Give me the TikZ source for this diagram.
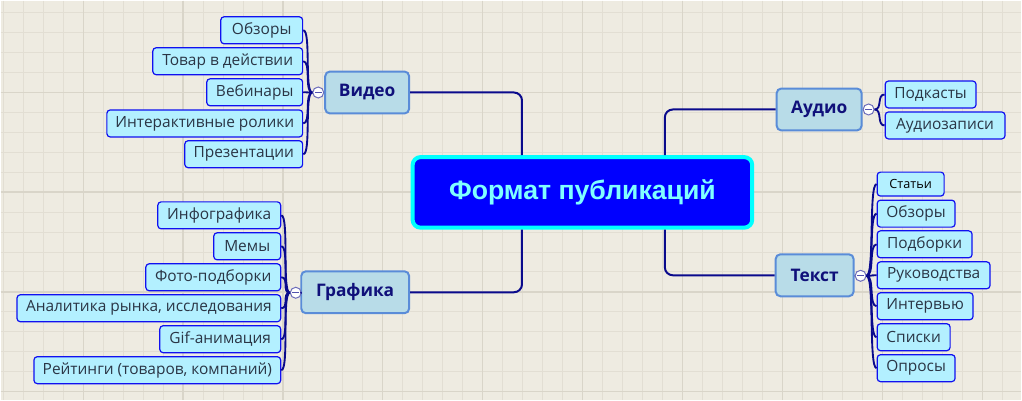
\documentclass[tikz,border=0pt]{standalone}
\usepackage{fontspec}
\setmainfont{Open Sans}
\newfontfamily\titlefont{Liberation Sans}
\usetikzlibrary{positioning,calc}

\definecolor{paper}{HTML}{EEEBE1}
\definecolor{gridminor}{HTML}{E2DED3}
\definecolor{gridmajor}{HTML}{D9D5C9}
\definecolor{navy}{HTML}{0A0A8C}
\definecolor{midfill}{HTML}{B8DCE8}
\definecolor{midline}{HTML}{5A8CD8}
\definecolor{midtext}{HTML}{10107A}
\definecolor{leaffill}{HTML}{B3F0FF}
\definecolor{leafline}{HTML}{1010F0}
\definecolor{leaftext}{HTML}{2A3545}
\definecolor{titletext}{HTML}{80FFFF}
\definecolor{rim}{HTML}{00FFFF}

\tikzset{
	leaf/.style={draw=leafline, fill=leaffill, text=leaftext, rounded corners=2.5pt,
		line width=0.9pt, inner sep=0pt, minimum height=20.25pt,
		minimum width=#1*0.75pt, font=\fontsize{11.6}{14}\selectfont},
	smallleaf/.style={leaf=#1, minimum height=18pt, text=black, font=\fontsize{9.5}{11}\selectfont},
	topic/.style={draw=midline, fill=midfill, text=midtext, rounded corners=3.5pt,
		line width=1.5pt, inner sep=0pt, minimum height=31.5pt,
		minimum width=#1*0.75pt, font=\fontsize{13}{15}\selectfont\bfseries},
	handle/.style={circle, draw=navy!60!white, fill=white, line width=0.75pt,
		minimum size=8.25pt, inner sep=0pt,
		path picture={\draw[navy!70!white, line width=0.6pt]
			([xshift=1.6pt]path picture bounding box.west) --
			([xshift=-1.6pt]path picture bounding box.east);}},
	branch/.style={draw=navy, line width=1.5pt, rounded corners=6pt},
	twig/.style={draw=navy, line width=1.4pt},
}

\begin{document}
\begin{tikzpicture}[x=0.75pt,y=-0.75pt]
	% background grid
	\fill[paper] (0,0) rectangle (1022,400);
	\foreach \x in {2.7,22.7,...,1022} \draw[gridminor, line width=0.75pt] (\x,0) -- (\x,400);
	\foreach \y in {11.7,31.7,...,400} \draw[gridminor, line width=0.75pt] (0,\y) -- (1022,\y);
	\foreach \x in {82.7,182.7,...,1022} \draw[gridmajor, line width=0.9pt] (\x,0) -- (\x,400);
	\foreach \y in {91.7,191.7,...,400} \draw[gridmajor, line width=0.9pt] (0,\y) -- (1022,\y);
	\useasboundingbox (0,0) rectangle (1022,400);

	% centre
	\draw (582.5,192) node[draw=rim, fill=blue, line width=3pt, rounded corners=6pt,
		minimum width=255pt, minimum height=53pt, text=titletext,
		font=\titlefont\fontsize{20}{24}\selectfont\bfseries] (main) {Формат публикаций};

	% topics
	\draw (367,92) node[topic=84] (video) {Видео};
	\draw (355,292) node[topic=108] (grafika) {Графика};
	\draw (819.5,109) node[topic=85] (audio) {Аудио};
	\draw (815,275) node[topic=78] (tekst) {Текст};

	\draw[branch] (video.east) -| ($(main.north)+(-60.5,0)$);
	\draw[branch] (grafika.east) -| ($(main.south)+(-60.5,0)$);
	\draw[branch] (audio.west) -| ($(main.north)+(82.5,0)$);
	\draw[branch] (tekst.west) -| ($(main.south)+(82.5,0)$);

	% Видео
	\draw (303,29.7) node[leaf=82, anchor=east] (v1) {Обзоры};
	\draw (303,60.7) node[leaf=150, anchor=east] (v2) {Товар в действии};
	\draw (303,91.8) node[leaf=96, anchor=east] (v3) {Вебинары};
	\draw (303,123) node[leaf=196, anchor=east] (v4) {Интерактивные ролики};
	\draw (303,153.8) node[leaf=118, anchor=east] (v5) {Презентации};
	\draw (318,92) node[handle] (hv) {};

	% Графика
	\draw (281,215) node[leaf=123, anchor=east] (g1) {Инфографика};
	\draw (281,246) node[leaf=67, anchor=east] (g2) {Мемы};
	\draw (281,277) node[leaf=135, anchor=east] (g3) {Фото-подборки};
	\draw (281,308) node[leaf=264, anchor=east] (g4) {Аналитика рынка, исследования};
	\draw (281,339) node[leaf=121, anchor=east] (g5) {Gif-анимация};
	\draw (281,370) node[leaf=247, anchor=east] (g6) {Рейтинги (товаров, компаний)};
	\draw (295.5,292.5) node[handle] (hg) {};

	% Аудио
	\draw (885,94) node[leaf=91, anchor=west] (a1) {Подкасты};
	\draw (885,125) node[leaf=120, anchor=west] (a2) {Аудиозаписи};
	\draw (869,109) node[handle] (ha) {};

	% Текст
	\draw (877,183.7) node[smallleaf=67, anchor=west] (t1) {Статьи};
	\draw (877,213.3) node[leaf=78, anchor=west] (t2) {Обзоры};
	\draw (877,244) node[leaf=95, anchor=west] (t3) {Подборки};
	\draw (877,275) node[leaf=113, anchor=west] (t4) {Руководства};
	\draw (877,306) node[leaf=96, anchor=west] (t5) {Интервью};
	\draw (877,337) node[leaf=73, anchor=west] (t6) {Списки};
	\draw (877,368) node[leaf=78, anchor=west] (t7) {Опросы};
	\draw (861,275.5) node[handle] (ht) {};

	\path[twig]
		(hv)	edge	(video)
				edge	[out=180, in=0, distance=6pt]	(v1)
				edge	[out=180, in=0, distance=6pt]	(v2)
				edge	[out=180, in=0, distance=6pt]	(v3)
				edge	[out=180, in=0, distance=6pt]	(v4)
				edge	[out=180, in=0, distance=6pt]	(v5)
		(hg)	edge	(grafika)
				edge	[out=180, in=0, distance=6pt]	(g1)
				edge	[out=180, in=0, distance=6pt]	(g2)
				edge	[out=180, in=0, distance=6pt]	(g3)
				edge	[out=180, in=0, distance=6pt]	(g4)
				edge	[out=180, in=0, distance=6pt]	(g5)
				edge	[out=180, in=0, distance=6pt]	(g6)
		(ha)	edge	(audio)
				edge	[out=0, in=180, distance=6pt]	(a1)
				edge	[out=0, in=180, distance=6pt]	(a2)
		(ht)	edge	(tekst)
				edge	[out=0, in=180, distance=6pt]	(t1)
				edge	[out=0, in=180, distance=6pt]	(t2)
				edge	[out=0, in=180, distance=6pt]	(t3)
				edge	[out=0, in=180, distance=6pt]	(t4)
				edge	[out=0, in=180, distance=6pt]	(t5)
				edge	[out=0, in=180, distance=6pt]	(t6)
				edge	[out=0, in=180, distance=6pt]	(t7)
		;
\end{tikzpicture}
\end{document}
